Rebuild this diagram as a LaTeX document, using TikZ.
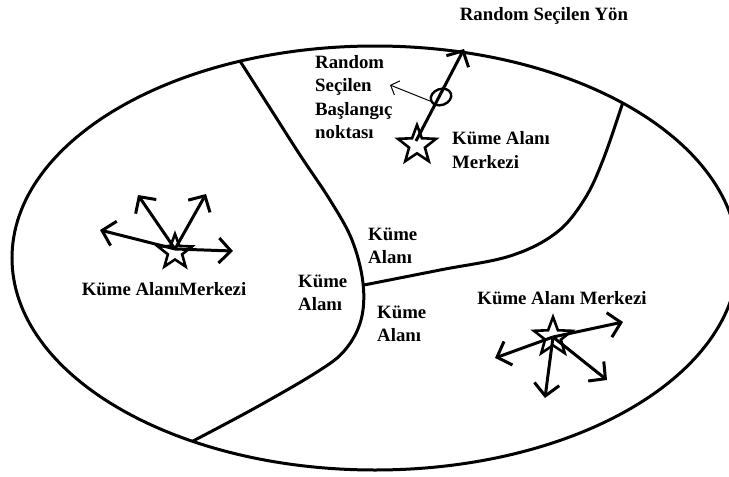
\documentclass[tikz,border=0pt]{standalone}
\usepackage{fontspec}
\setmainfont{Liberation Serif}
\usetikzlibrary{shapes.geometric,arrows.meta}
\begin{document}
\begin{tikzpicture}[x=1pt,y=-1pt,
  lbl/.style={font=\fontsize{18.8}{23.5}\selectfont\bfseries, inner sep=0pt, align=left},
  bnd/.style={line width=3pt},
  arr/.style={line width=3pt, -{Straight Barb[length=12pt,width=25pt,line width=3pt]}},
  thinarr/.style={line width=1pt, -{Straight Barb[length=7pt,width=15pt,line width=1pt]}},
  starsh/.style={star, star points=5, star point ratio=2.4, draw, line width=2.6pt, minimum size=40pt, inner sep=0pt}
]
\useasboundingbox (0,0) rectangle (729,477);
% outer region
\draw[bnd] (375,258) ellipse [x radius=363pt, y radius=212pt];
% boundaries
\draw[bnd] plot[smooth, tension=0.6] coordinates {(240,61) (270,108) (300,155) (330,200) (352,240) (363,283) (361,320) (345,350) (317,372) (255,408) (193,441)};
\draw[bnd] plot[smooth, tension=0.6] coordinates {(364,285) (440,270) (510,256) (556,233) (584,200) (603,160) (623,102)};

% top cluster: star, direction, start point
\coordinate (c1) at (416,141);
\coordinate (t1) at (464,49);
\node[starsh] (s1) at (417,145) {};
\draw[arr] (c1) -- (t1);
\node[draw, line width=2.4pt, ellipse, minimum width=21pt, minimum height=16pt, inner sep=0pt, rotate=20] (p1) at (441,97) {};
\coordinate (t1b) at (390,85);
\draw[thinarr] (p1.west) -- (t1b);

% left cluster
\coordinate (c2) at (175,249);
\coordinate (l2a) at (138,195);
\coordinate (l2b) at (206,194);
\coordinate (l2c) at (100,230);
\coordinate (l2d) at (233,251);
\draw[arr] (c2) -- (l2a);
\draw[arr] (c2) -- (l2b);
\draw[arr] (c2) -- (l2c);
\draw[arr] (c2) -- (l2d);
\node[starsh, minimum size=36pt] (s2) at (175,252) {};

% right cluster
\coordinate (c3) at (553,337);
\coordinate (r3a) at (623,322);
\coordinate (r3b) at (495,358);
\coordinate (r3c) at (545,398);
\coordinate (r3d) at (607,380);
\draw[arr] (c3) -- (r3a);
\draw[arr] (c3) -- (r3b);
\draw[arr] (c3) -- (r3c);
\draw[arr] (c3) -- (r3d);
\node[starsh] (s3) at (553,337) {};

% labels
\node[lbl] (yon) at (544,16) {Random Seçilen Yön};
\node[lbl, anchor=west] (bas) at (315,97) {Random\\Seçilen\\Başlangıç\\noktası};
\node[lbl, anchor=west] (m1) at (452,150) {Küme Alanı\\Merkezi};
\node[lbl, anchor=west] (k1) at (368,246) {Küme\\Alanı};
\node[lbl, anchor=west] (k2) at (298,293) {Küme\\Alanı};
\node[lbl, anchor=west] (k3) at (377,324) {Küme\\Alanı};
\node[lbl] (m2) at (164,289) {Küme AlanıMerkezi};
\node[lbl] (m3) at (562,298) {Küme Alanı Merkezi};
\end{tikzpicture}
\end{document}
